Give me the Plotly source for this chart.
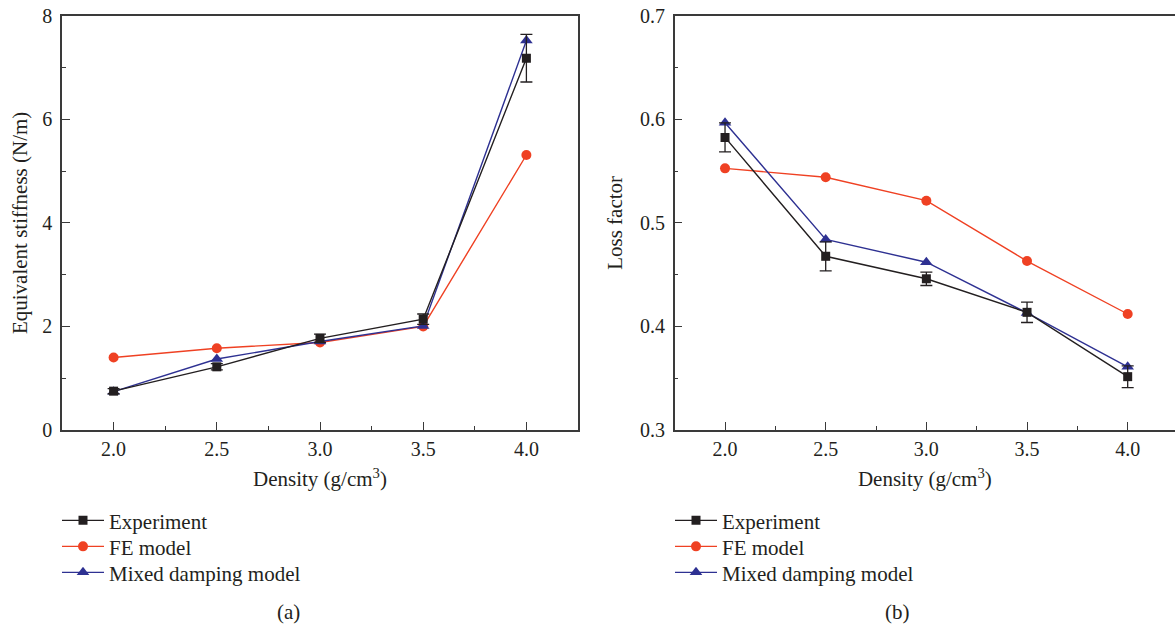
import plotly.graph_objects as go

density = [2.0, 2.5, 3.0, 3.5, 4.0]

# (a) Equivalent stiffness (N/m)
stiff_exp = [0.75, 1.22, 1.77, 2.14, 7.18]
stiff_exp_err = [0.05, 0.06, 0.08, 0.10, 0.46]
stiff_fe = [1.40, 1.58, 1.69, 2.00, 5.31]
stiff_mixed = [0.74, 1.37, 1.71, 2.01, 7.52]

# (b) Loss factor
loss_exp = [0.5825, 0.4677, 0.4460, 0.4136, 0.3515]
loss_exp_err = [0.014, 0.014, 0.0065, 0.0098, 0.0105]
loss_fe = [0.5526, 0.5440, 0.5214, 0.4631, 0.4120]
loss_mixed = [0.5967, 0.4840, 0.4620, 0.4130, 0.3610]

names = ["Experiment", "FE model", "Mixed damping model"]
panel_labels = ["(a)", "(b)"]

BLACK = "#231f20"
RED = "#ef4123"
BLUE = "#2e3192"
AX = "#3a3a3a"
FONT = "Liberation Serif"
W, H = 1175, 631


def px(sx):
    return sx / W


def py(sy):
    return (H - sy) / H


fig = go.Figure()


def add_panel(xa, ya, legs, exp, err, fe, mixed):
    fig.add_trace(go.Scatter(
        x=density, y=fe, name=names[1], mode="lines+markers",
        xaxis=xa, yaxis=ya, legend=legs[1], showlegend=True,
        line=dict(color=RED, width=1.4),
        marker=dict(symbol="circle", size=10, color=RED)))
    fig.add_trace(go.Scatter(
        x=density, y=mixed, name=names[2], mode="lines+markers",
        xaxis=xa, yaxis=ya, legend=legs[2], showlegend=True,
        line=dict(color=BLUE, width=1.4),
        marker=dict(symbol="triangle-up", size=11, color=BLUE)))
    fig.add_trace(go.Scatter(
        x=density, y=exp, name=names[0], mode="lines+markers",
        xaxis=xa, yaxis=ya, legend=legs[0], showlegend=True,
        line=dict(color=BLACK, width=1.4),
        marker=dict(symbol="square", size=9, color=BLACK),
        error_y=dict(type="data", array=err, visible=True,
                     color=BLACK, thickness=1.3, width=6)))


add_panel("x", "y", ["legend", "legend2", "legend3"],
          stiff_exp, stiff_exp_err, stiff_fe, stiff_mixed)
add_panel("x2", "y2", ["legend4", "legend5", "legend6"],
          loss_exp, loss_exp_err, loss_fe, loss_mixed)

ybot = py(430)
ytop = py(15.7)

tickfont = dict(family=FONT, size=20, color=BLACK)
titlefont = dict(family=FONT, size=21, color=BLACK)

common_x = dict(
    automargin=False, ticklabeloverflow="allow",
    showline=True, linecolor=AX, linewidth=1.5, mirror=True,
    ticks="inside", ticklen=8, tickwidth=1.3, tickcolor=AX,
    tickmode="linear", tick0=2.0, dtick=0.5, tickformat=".1f",
    minor=dict(ticks="inside", ticklen=4, dtick=0.25, tick0=2.0,
               tickcolor=AX, tickwidth=1.2),
    showgrid=False, zeroline=False, tickfont=tickfont, ticklabelstandoff=0,
    title=dict(text="Density (g/cm<sup>3</sup>)", font=titlefont, standoff=13),
)

common_y = dict(
    automargin=False, ticklabeloverflow="allow",
    showline=True, linecolor=AX, linewidth=1.5,
    ticks="inside", ticklen=8, tickwidth=1.3, tickcolor=AX,
    showgrid=False, zeroline=False, tickfont=tickfont, ticklabelstandoff=4,
    domain=[ybot, ytop],
)


def leg(sx, sy):
    return dict(x=px(sx), y=py(sy), xanchor="left", yanchor="middle",
                font=dict(family=FONT, size=21, color=BLACK),
                bgcolor="rgba(0,0,0,0)", borderwidth=0, itemwidth=42)


rows = [520.7, 546.7, 572.7]
lx_a, lx_b = 57, 670

# right panel is cut by the page edge, as in the reference
x2_end = 4.0 + (W - 1127.7) / 201.3

fig.update_layout(
    width=W, height=H,
    margin=dict(l=0, r=0, t=0, b=0),
    showlegend=True,
    paper_bgcolor="white", plot_bgcolor="white",
    font=dict(family=FONT, color=BLACK),
    xaxis=dict(common_x, domain=[px(62), px(578)], range=[1.75, 4.25], anchor="y"),
    xaxis2=dict(common_x, domain=[px(674.7), 1.0], range=[1.75, x2_end], anchor="y2"),
    yaxis=dict(
        common_y, mirror=True, range=[0, 8], anchor="x",
        tickmode="linear", tick0=0, dtick=2,
        minor=dict(ticks="inside", ticklen=4, dtick=1, tickcolor=AX, tickwidth=1.2),
        title=dict(text="Equivalent stiffness (N/m)", font=titlefont, standoff=9),
    ),
    yaxis2=dict(
        common_y, mirror=False, range=[0.3, 0.7], anchor="x2",
        tickmode="linear", tick0=0.3, dtick=0.1, tickformat=".1f",
        minor=dict(ticks="inside", ticklen=4, dtick=0.05, tickcolor=AX, tickwidth=1.2),
        title=dict(text="Loss factor", font=titlefont, standoff=12),
    ),
    legend=leg(lx_a, rows[0]),
    legend2=leg(lx_a, rows[1]),
    legend3=leg(lx_a, rows[2]),
    legend4=leg(lx_b, rows[0]),
    legend5=leg(lx_b, rows[1]),
    legend6=leg(lx_b, rows[2]),
    annotations=[
        dict(text=panel_labels[0], x=px(288), y=py(612), xref="paper", yref="paper",
             xanchor="center", yanchor="middle",
             showarrow=False, font=dict(family=FONT, size=21, color=BLACK)),
        dict(text=panel_labels[1], x=px(897), y=py(612), xref="paper", yref="paper",
             xanchor="center", yanchor="middle",
             showarrow=False, font=dict(family=FONT, size=21, color=BLACK)),
    ],
)

fig.write_html(
    "out.html",
    config={"displayModeBar": False},
    post_script="document.body.style.margin='0';document.body.style.overflow='hidden';",
)
